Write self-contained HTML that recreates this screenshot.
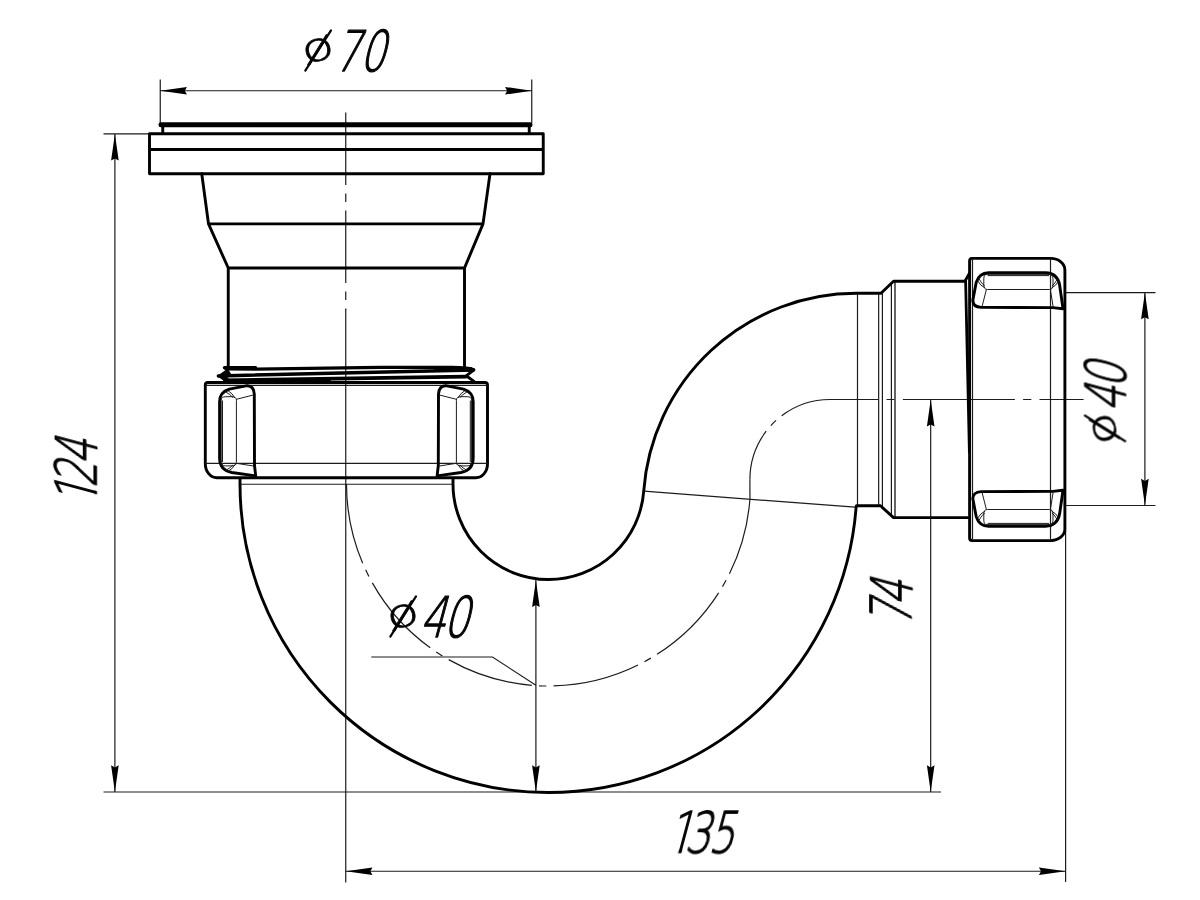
<!DOCTYPE html>
<html lang="en">
<head>
<meta charset="utf-8">
<title>Siphon drawing</title>
<style>
html,body{margin:0;padding:0;background:#fff;}
body{width:1200px;height:900px;overflow:hidden;}
svg{display:block;}
.k{fill:none;stroke:#000;stroke-width:2.9;stroke-linecap:round;stroke-linejoin:round;}
.t{fill:none;stroke:#1c1c1c;stroke-width:1.2;}
.g{fill:none;stroke:#1c1c1c;stroke-width:1;}
.a{fill:#000;stroke:none;}
.ph{font-size:39px;stroke-width:0.7;}
.sl{fill:none;stroke:#000;stroke-width:2.2;stroke-linecap:round;}
.d{font-family:"DejaVu Sans Light","DejaVu Sans","Liberation Sans",sans-serif;font-weight:200;font-size:56px;fill:#000;stroke:#000;stroke-width:1.3;stroke-linejoin:round;}
.n{letter-spacing:-3px;}
</style>
</head>
<body>
<svg width="1200" height="900" viewBox="0 0 1200 900">
<defs>
  <!-- arrow head pointing to -x, tip at origin -->
  <path id="ah" d="M0,0 L26.7,-3.8 L24.6,0 L26.7,3.8 Z"/>
  <!-- grip (left one) in nut-local coords: origin nut top-left -->
  <g id="grip">
    <path class="k" d="M42,3.2 Q48.5,3.4 49,11.5 L49.2,83 L50.4,93.4 L26.5,90 Q14.6,87.8 14.3,76 L14.3,19 Q14.6,9.5 24,6.6 Z"/>
    <rect class="g" x="15.9" y="14.2" width="15.2" height="69.2" rx="4.5" ry="3.5"/>
    <path class="g" d="M17.2,18 V79.5 M31.1,16.8 L47.6,12.6 M31.1,80.8 L48.8,83.6 M22.5,8 Q27.5,11 29.5,15.5 M20.3,9.3 Q25,12 27.6,15 M22.5,89 Q27.5,86.5 29.5,82 M20.3,88 Q25,85.5 27.6,82.5"/>
  </g>
  <!-- nut: local origin at top-left, size 282.2 x 95.3 -->
  <g id="nut">
    <path class="k" d="M2.5,0 H279.7 Q282.2,0 282.2,2.5 V81.3 A11.5,14 0 0 1 270.7,95.3 H11.5 A11.5,14 0 0 1 0,81.3 V2.5 Q0,0 2.5,0 Z"/>
    <path class="t" d="M1,2.9 H281.2 M0,80.9 H282.2"/>
    <use href="#grip"/>
    <use href="#grip" transform="translate(282.2,0) scale(-1,1)"/>
  </g>
  <!-- trims the foot serif of the digit one -->
  <clipPath id="c1"><path d="M-5,-60 H45 V-3.4 H21 V2 H16.4 V-3.4 H-5 Z"/></clipPath>
</defs>
<rect width="1200" height="900" fill="#fff"/>

<!-- ===== thin lines: centre lines ===== -->
<g class="t">
  <!-- vertical axis of inlet -->
  <path d="M345.75,112.5 V310" stroke-dasharray="72.5 8.5 8.5 8.5"/>
  <path d="M345.75,309.5 V882.5"/>
  <!-- centre line of the bends (dash-dot) -->
  <path d="M346.5,484 A202,202 0 0 0 548.5,686 A202,202 0 0 0 749.96,498.73" stroke-dasharray="87.6 7.3 7.3 7.3" stroke-dashoffset="6.2"/>
  <path d="M749.96,498.73 L749.9,479.6"/>
  <path d="M749.9,479.6 A80.1,80.1 0 0 1 830,399.5" stroke-dasharray="51.9 7.3 7.3 7.3 70"/>
  <path d="M830,399.5 H1083.6" stroke-dasharray="48.3 8.2 8.2 8.2 112 8.2 8.2 8.2 60"/>
  <!-- tangent edge line of elbow -->
  <path d="M644,491.2 L855,507.2"/>
</g>

<!-- ===== thin lines: dimensions ===== -->
<g class="t">
  <!-- d70 -->
  <path d="M160.25,79.5 V123 M531.75,79.5 V123 M160.25,90.75 H531.75"/>
  <!-- 124 -->
  <path d="M103.5,133.9 H149 M103.5,792 H941 M114.9,133.9 V792"/>
  <!-- 135 -->
  <path d="M1065.6,530 V882 M345.75,871.25 H1065.6"/>
  <!-- 74 -->
  <path d="M930.7,399.8 V792"/>
  <!-- d40 right -->
  <path d="M1065.5,292.6 H1155.5 M1065.5,505.5 H1155.5 M1144.9,292.6 V505.5"/>
  <!-- d40 in bend, with leader -->
  <path d="M535.9,580 V792 M371.25,657 H492.5 L535.5,685"/>
</g>
<g class="a">
  <use href="#ah" transform="translate(160.25,90.75)"/>
  <use href="#ah" transform="translate(531.75,90.75) scale(-1,1)"/>
  <use href="#ah" transform="translate(114.9,133.9) rotate(90)"/>
  <use href="#ah" transform="translate(114.9,792) rotate(-90)"/>
  <use href="#ah" transform="translate(345.75,871.25)"/>
  <use href="#ah" transform="translate(1065.6,871.25) scale(-1,1)"/>
  <use href="#ah" transform="translate(930.7,399.8) rotate(90)"/>
  <use href="#ah" transform="translate(930.7,792) rotate(-90)"/>
  <use href="#ah" transform="translate(1144.9,292.6) rotate(90)"/>
  <use href="#ah" transform="translate(1144.9,505.5) rotate(-90)"/>
  <use href="#ah" transform="translate(535.9,580.3) rotate(90)"/>
  <use href="#ah" transform="translate(535.9,792) rotate(-90)"/>
</g>
<!-- ===== thick outline: inlet flange and body ===== -->
<g class="k">
  <path d="M161,124.75 H530" stroke-width="5"/>
  <path d="M162.75,127 V133.5 M529.25,127 V133.5"/>
  <path d="M149.5,133.75 H543.25 V173.75 H149.5 Z M149.5,149.5 H543.25"/>
  <path d="M201.75,173.75 L208.5,223.9 L228.25,268 V366.5 M490,173.75 L483,223.9 L464.5,268 V366.5 M208.5,223.9 H483 M228.25,268 H464.5"/>
</g>

<!-- ===== thread above the nut ===== -->
<g class="k">
  <path d="M224.6,367.7 H255.5" stroke-width="3.6"/>
  <path d="M226,369 L256,369.1 L380,367.4 L452,367.4 Q468,367.5 473.6,369.6" stroke-width="3.1"/>
  <path d="M218.2,376 L227.6,369.6 L230.5,374.4 L226,376.6 L230,381 L225.4,381.2 Z" fill="#000" stroke-width="1.4"/>
  <path d="M218.4,375.9 L473.6,369.9" stroke-width="3.5"/>
  <path d="M225,380.3 L466,376.6" stroke-width="3.7"/>
  <path d="M473,370.6 L466.2,375.8 L474,381.4"/>
  <path d="M436,368.9 L470.5,369.3" stroke-width="4.6"/>
  <path d="M226,381.6 L330,380.4" stroke-width="1.6"/>
</g>

<!-- ===== nuts ===== -->
<use href="#nut" transform="translate(205.3,382.5)"/>
<use href="#nut" transform="translate(969.6,540.6) rotate(-90)"/>

<!-- ===== bends ===== -->
<g class="t">
  <path d="M240,484.25 H452"/>
  <path d="M857.5,293.25 V505.75 M878.65,293.25 V505.75 M882.4,291.5 V507.5 M891.4,282.5 V516.5"/>
  <path d="M895,281.25 V517.5" stroke="#555" stroke-width="1.8"/>
</g>
<g class="k">
  <!-- outer U -->
  <path d="M240,478.5 V484 A308.5,308.5 0 0 0 548.5,792.5 A308.5,308.5 0 0 0 856.18,506.5 L856.5,505.75 H880.5 L893.5,517.6 H969.6"/>
  <!-- inner U + outer of elbow -->
  <path d="M453,478.5 V484 A95.5,95.5 0 0 0 548.5,579.5 A95.5,95.5 0 0 0 643.75,490.97 A213.2,213.2 0 0 1 856.5,293.3 H881 L893.5,281.25 H965.5"/>
  <!-- tilted edge at outlet nut -->
  <path d="M969.3,273.5 L965.6,280 L969.4,452" stroke-width="2.8"/>
</g>
<!-- ===== dimension texts ===== -->
<g class="d" opacity="0.99">
  <g transform="translate(305,71)"><text class="ph" transform="translate(0.5,-6.2) rotate(-16.5) scale(1.36,1)">ø</text><path class="sl" d="M0.3,-0.4 L26,-40.6"/><text class="n" transform="translate(29,0) skewX(-15) scale(0.72,1)" style="letter-spacing:-0.5px">70</text></g>
  <g transform="translate(390,637)"><text class="ph" transform="translate(0.5,-6.2) rotate(-16.5) scale(1.36,1)">ø</text><path class="sl" d="M0.3,-0.4 L26,-40.6"/><text class="n" transform="translate(29.5,0) skewX(-15) scale(0.72,1)">40</text></g>
  <g transform="translate(1125.5,441.5) rotate(-90)"><text class="ph" transform="translate(0.5,-6.2) rotate(-16.5) scale(1.36,1)">ø</text><path class="sl" d="M0.3,-0.4 L26,-40.6"/><text class="n" transform="translate(29.5,0) skewX(-15) scale(0.72,1)">40</text></g>
  <g transform="translate(96.2,506) rotate(-90) skewX(-15)"><text class="n" transform="scale(0.72,1)" clip-path="url(#c1)">1</text><text class="n" transform="scale(0.72,1)" x="25.4"><tspan letter-spacing="-4.2">2</tspan>4</text></g>
  <g transform="translate(911.5,627) rotate(-90) skewX(-15)"><text class="n" transform="scale(0.72,1)" style="letter-spacing:-6.5px">74</text></g>
  <g transform="translate(666.5,852.4) skewX(-15)"><text class="n" transform="scale(0.72,1)" clip-path="url(#c1)">1</text><text class="n" transform="scale(0.72,1)" x="24.6"><tspan letter-spacing="-2.5">3</tspan>5</text></g>
</g>
</svg>
</body>
</html>
